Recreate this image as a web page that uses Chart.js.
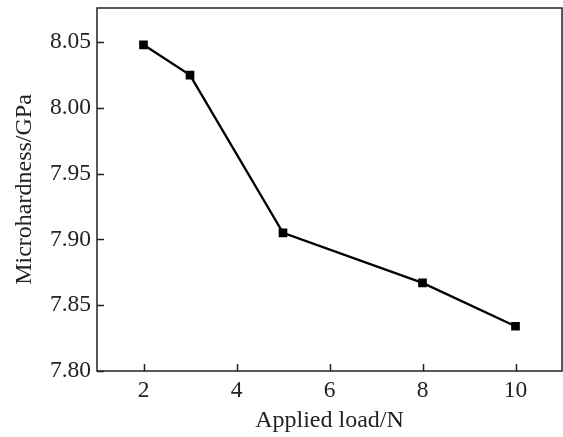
<!doctype html>
<html lang="en">
  <head>
    <meta charset="utf-8">
    <title>Microhardness vs applied load</title>
    <style>
      * { margin: 0; padding: 0; }
      body { background: #fff; }
      .chartBox { width: 563px; height: 437px; }
    </style>
  </head>
  <body>
    <div class="chartBox">
      <canvas id="myChart"></canvas>
    </div>
    <script src="https://cdn.jsdelivr.net/npm/chart.js"></script>
    <script>
    const loads = [2, 3, 5, 8, 10];
    const hardness = [8.048, 8.025, 7.905, 7.867, 7.834];
    const xTicks = [2, 4, 6, 8, 10];
    const yTicks = [7.80, 7.85, 7.90, 7.95, 8.00, 8.05];

    const points = loads.map((x, i) => ({ x: x, y: hardness[i] }));
    const serif = '"Liberation Serif", "Times New Roman", serif';
    const tickFont = { family: serif, size: 23.5 };
    const titleFont = { family: serif, size: 24 };

    // frame + inward tick marks
    const frame = {
      id: 'frame',
      afterDraw(chart) {
        const { ctx, chartArea: a, scales } = chart;
        ctx.save();
        ctx.strokeStyle = '#222';
        ctx.lineWidth = 1.5;
        ctx.strokeRect(a.left, a.top, a.right - a.left, a.bottom - a.top);
        ctx.beginPath();
        xTicks.forEach(v => {
          const px = Math.round(scales.x.getPixelForValue(v)) + 0.5;
          ctx.moveTo(px, a.bottom);
          ctx.lineTo(px, a.bottom - 7);
        });
        yTicks.forEach(v => {
          const py = Math.round(scales.y.getPixelForValue(v)) + 0.5;
          ctx.moveTo(a.left, py);
          ctx.lineTo(a.left + 7, py);
        });
        ctx.stroke();
        ctx.restore();
      }
    };

    const noPad = s => { s.paddingLeft = 0; s.paddingRight = 0; s.paddingTop = 0; s.paddingBottom = 0; };

    const config = {
      type: 'scatter',
      data: {
        datasets: [{
          data: points,
          showLine: true,
          borderColor: '#000',
          backgroundColor: '#000',
          borderWidth: 2.3,
          pointStyle: 'rect',
          pointRadius: 4.5,
          pointHoverRadius: 4.5
        }]
      },
      options: {
        responsive: true,
        maintainAspectRatio: false,
        animation: false,
        layout: { autoPadding: false, padding: { top: 8, right: 1, bottom: 0, left: 0 } },
        plugins: { legend: { display: false }, tooltip: { enabled: false } },
        scales: {
          x: {
            type: 'linear',
            min: 1,
            max: 11,
            afterBuildTicks: s => { s.ticks = xTicks.map(v => ({ value: v })); },
            afterFit: s => { s.height = 66; noPad(s); },
            grid: { display: false, drawTicks: false },
            border: { display: false },
            ticks: { color: '#222', font: tickFont, padding: 6, maxRotation: 0 },
            title: { display: true, text: 'Applied load/N', color: '#222', font: titleFont, padding: { top: 0, bottom: 2 } }
          },
          y: {
            type: 'linear',
            min: 7.8,
            max: 8.076,
            afterBuildTicks: s => { s.ticks = yTicks.map(v => ({ value: v })); },
            afterFit: s => { s.width = 97; noPad(s); },
            grid: { display: false, drawTicks: false },
            border: { display: false },
            ticks: { color: '#222', font: tickFont, padding: 6, callback: v => v.toFixed(2) },
            title: { display: true, text: 'Microhardness/GPa', color: '#222', font: titleFont, padding: { top: 10, bottom: 0 } }
          }
        }
      },
      plugins: [frame]
    };

    const myChart = new Chart(document.getElementById('myChart'), config);
    </script>
  </body>
</html>
